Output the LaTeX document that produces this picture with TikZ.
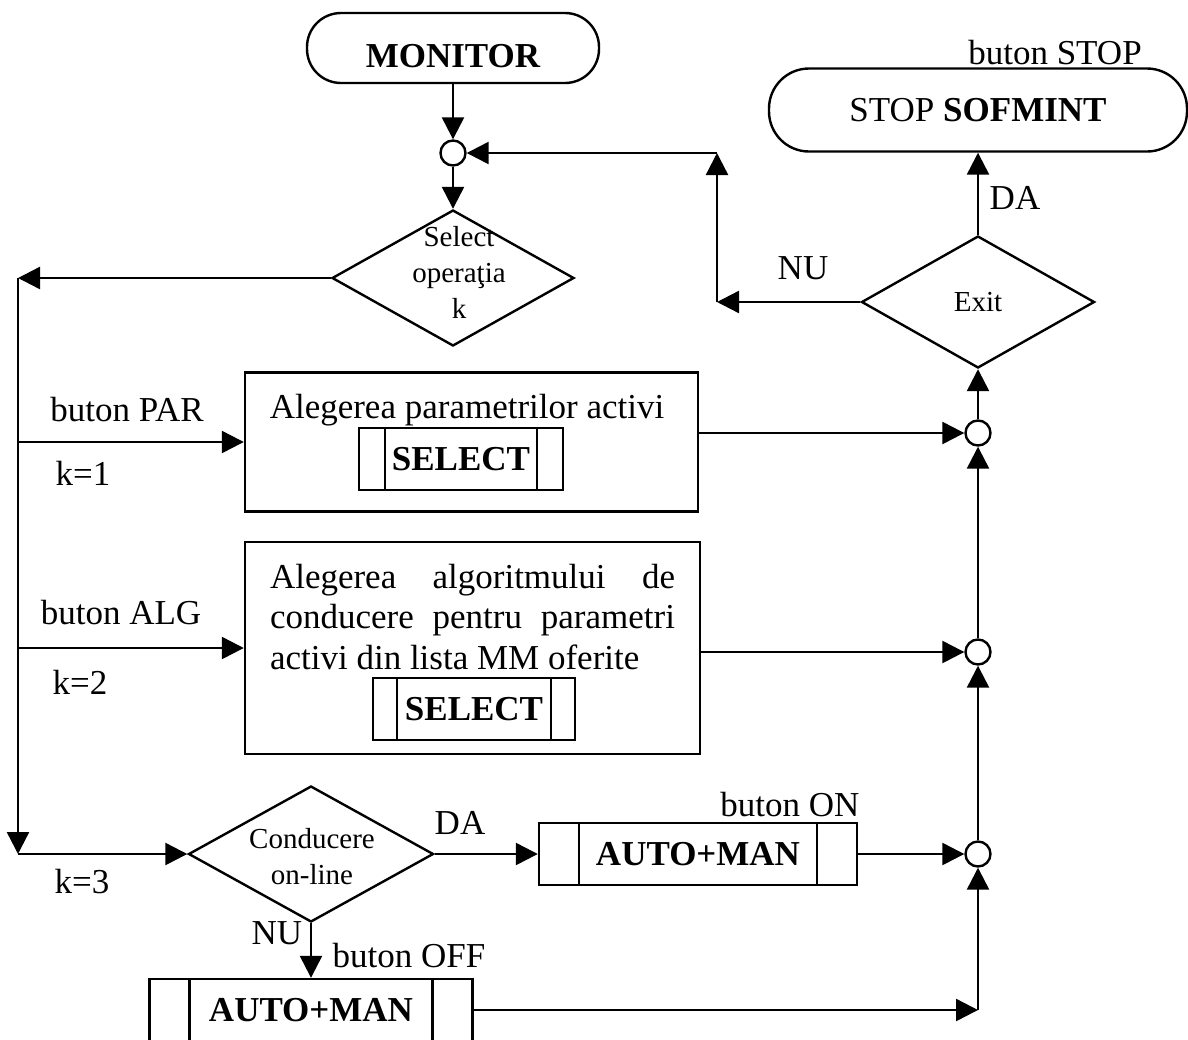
\documentclass[tikz,border=0pt]{standalone}
\usepackage{fontspec}
\setmainfont{Liberation Serif}
\usetikzlibrary{
    arrows.meta,     % For arrow tips
    shapes.geometric % For the decision diamonds
}

\begin{document}
\begin{tikzpicture}[
    x=0.5pt, y=-0.5pt, % Work in pixel-like units, y pointing down
    font=\fontsize{17.5}{20.25}\selectfont,
    >={Triangle[length=11pt, width=11pt]}, % Filled arrow heads
    line/.style={line width=1.2pt},  % Base line width
    flow/.style={line, ->},          % Style for flow connectors
    term/.style={draw, line, rectangle, rounded corners=#1}, % Start/stop
    box/.style={draw, line, rectangle},                      % Process block
    % Predefined process: rectangle with a bar at each end
    subproc/.style={draw, line, rectangle, minimum height=31pt,
        font=\fontsize{17.5}{20.25}\selectfont\bfseries,
        path picture={
            \draw[line] ([xshift=#1]path picture bounding box.north west)
                     -- ([xshift=#1]path picture bounding box.south west);
            \draw[line] ([xshift=-#1]path picture bounding box.north east)
                     -- ([xshift=-#1]path picture bounding box.south east);
        }},
    decision/.style={draw, line, diamond, inner sep=0pt}, % Tests
    junc/.style={draw, line, circle, minimum size=12.5pt, inner sep=0pt}, % Joins
    lbl/.style={inner sep=0pt},      % Free labels
    dtext/.style={inner sep=0pt, align=center, font=\fontsize{14.5}{18}\selectfont}
]

    % Page frame
    \useasboundingbox (0,0) rectangle (1188,1039);
    \clip (0,0) rectangle (1188,1039);

    % Start and selection
    \node[term=17pt, minimum width=146pt, minimum height=35pt,
          text height=19.6pt, text depth=0pt,
          font=\fontsize{17.5}{20.25}\selectfont\bfseries] (mon) at (453,48) {MONITOR};
    \node[junc] (j0) at (453,153) {};
    \node[decision, minimum width=121pt, minimum height=68pt] (sel) at (453,278) {};
    \node[dtext] (selT) at (459,272) {Select\\operaţia\\k};

    % Stop and exit test
    \node[term=20pt, minimum width=209pt, minimum height=41.5pt] (stop) at (978,110) {STOP \textbf{SOFMINT}};
    \node[lbl] (bSTOP) at (1055,53) {buton STOP};
    \node[decision, minimum width=116.5pt, minimum height=66pt,
          font=\fontsize{14.5}{18}\selectfont] (exit) at (978,302) {Exit};

    % k=1: active parameters
    \node[box, minimum width=226.5pt, minimum height=69.5pt] (p1) at (471.5,442) {};
    \node[lbl] (p1T) at (467,410) {Alegerea parametrilor activi};
    \node[subproc=13pt, minimum width=102pt] (s1) at (461,459) {SELECT};

    % k=2: control algorithm
    \node[box, minimum width=227.5pt, minimum height=106pt] (p2) at (472.5,648) {};
    \node[lbl, text width=202.5pt, align=justify] (p2T) at (472.5,617)
        {Alegerea algoritmului de\linebreak conducere pentru parametri\linebreak activi din lista MM oferite};
    \node[subproc=12pt, minimum width=101pt] (s2) at (474,709) {SELECT};

    % k=3: on-line control
    \node[decision, minimum width=122.5pt, minimum height=68pt] (cond) at (311,854) {};
    \node[dtext] (condT) at (312,857) {Conducere\\on-line};
    \node[subproc=20pt, minimum width=159pt] (on) at (698,854) {AUTO+MAN};
    \node[subproc=20pt, minimum width=161.5pt] (off) at (311,1010) {AUTO+MAN};

    % Junctions on the return column
    \node[junc] (j1) at (978,433) {};
    \node[junc] (j2) at (978,652) {};
    \node[junc] (j3) at (978,854) {};

    % Corner points
    \coordinate (lt) at (18,278);
    \coordinate (lb) at (lt |- cond);
    \coordinate (nuC) at (717,302);
    \coordinate (nuT) at (nuC |- j0);
    \coordinate (rb) at (j3 |- off);

    % Main line and left branches
    \draw[flow] (mon) -- (j0);
    \draw[flow] (j0) -- (sel);
    \draw[flow] (sel.west) -- (lt);
    \draw[flow] (lt) -- (lb);
    \draw[flow] (lb) -- (cond);
    \draw[flow] (lt |- p1) -- (p1);
    \draw[flow] (lt |- p2) -- (p2);
    \draw[flow] (cond) -- (on);
    \draw[flow] (cond) -- (off);

    % Return column
    \draw[flow] (p1.east |- j1) -- (j1);
    \draw[flow] (p2.east |- j2) -- (j2);
    \draw[flow] (on) -- (j3);
    \draw[flow] (off) -- (rb);
    \draw[flow] (rb) -- (j3);
    \draw[flow] (j3) -- (j2);
    \draw[flow] (j2) -- (j1);
    \draw[flow] (j1) -- (exit);
    \draw[flow] (exit) -- (stop);

    % Loop back to the menu
    \draw[flow] (exit.west) -- (nuC);
    \draw[flow] (nuC) -- (nuT);
    \draw[flow] (nuT) -- (j0);

    % Branch labels
    \node[lbl] (bPAR) at (127,410) {buton PAR};
    \node[lbl] (k1) at (83,473) {k=1};
    \node[lbl] (bALG) at (121,613) {buton ALG};
    \node[lbl] (k2) at (80,682) {k=2};
    \node[lbl] (k3) at (82,882) {k=3};
    \node[lbl] (da1) at (460,823) {DA};
    \node[lbl] (nu1) at (277,933) {NU};
    \node[lbl] (bOFF) at (409,956) {buton OFF};
    \node[lbl] (bON) at (790,805) {buton ON};
    \node[lbl] (nu2) at (803,268) {NU};
    \node[lbl] (da2) at (1015,198) {DA};

\end{tikzpicture}
\end{document}
